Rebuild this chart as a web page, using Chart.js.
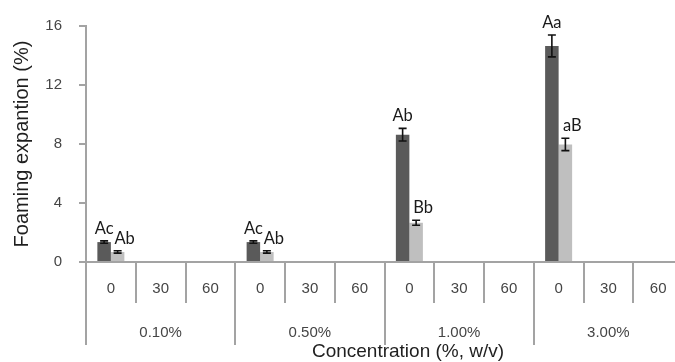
<!DOCTYPE html>
<html>
<head>
<meta charset="utf-8">
<script src="https://cdn.jsdelivr.net/npm/chart.js@4.4.1/dist/chart.umd.min.js"></script>
<style>
  html, body { margin: 0; padding: 0; background: #fff; overflow: hidden; width: 675px; height: 362px; }
  canvas { display: block; }
</style>
</head>
<body>
<canvas id="c" width="700" height="362"></canvas>
<script>
// ---- data ----
const timeLabels = ['0','30','60','0','30','60','0','30','60','0','30','60'];
const concentrationLabels = ['0.10%','0.50%','1.00%','3.00%'];
const darkValues  = [1.35, 0, 0, 1.35, 0, 0, 8.63, 0, 0, 14.65, 0, 0];
const darkErrors  = [0.08, 0, 0, 0.08, 0, 0, 0.43, 0, 0, 0.74, 0, 0];
const darkLetters = ['Ac','','','Ac','','','Ab','','','Aa','',''];
const lightValues  = [0.68, 0, 0, 0.68, 0, 0, 2.66, 0, 0, 7.97, 0, 0];
const lightErrors  = [0.08, 0, 0, 0.08, 0, 0, 0.17, 0, 0, 0.42, 0, 0];
const lightLetters = ['Ab','','','Ab','','','Bb','','','aB','',''];
const yMin = 0, yMax = 16, yStep = 4;
const yTitle = 'Foaming expantion (%)';
const xTitle = 'Concentration (%, w/v)';

const AX = '#a3a3a3';
const TICKFONT = { family: '"Liberation Sans", Arial, sans-serif', size: 15 };
const TITLEFONT = { family: '"Liberation Sans", Arial, sans-serif', size: 20 };

const errorBarsAndLetters = {
  id: 'errorBarsAndLetters',
  afterDatasetsDraw(chart) {
    const ctx = chart.ctx;
    const y = chart.scales.y;
    chart.data.datasets.forEach((ds, i) => {
      const meta = chart.getDatasetMeta(i);
      meta.data.forEach((bar, j) => {
        const v = ds.data[j];
        if (!v) return;
        const e = ds.errors[j];
        const yHi = y.getPixelForValue(v + e);
        const yLo = y.getPixelForValue(v - e);
        ctx.save();
        ctx.strokeStyle = '#111';
        ctx.lineWidth = 1.6;
        ctx.beginPath();
        ctx.moveTo(bar.x, yHi); ctx.lineTo(bar.x, yLo);
        ctx.moveTo(bar.x - 4, yHi); ctx.lineTo(bar.x + 4, yHi);
        ctx.moveTo(bar.x - 4, yLo); ctx.lineTo(bar.x + 4, yLo);
        ctx.stroke();
        const t = ds.letters[j];
        if (t) {
          ctx.fillStyle = '#1a1a1a';
          ctx.font = '16.5px Lato, "Open Sans", sans-serif';
          ctx.textAlign = 'center';
          ctx.textBaseline = 'alphabetic';
          ctx.fillText(t, bar.x + ds.letterShift, yHi - 7);
        }
        ctx.restore();
      });
    });
  },
  afterDraw(chart) {
    const ctx = chart.ctx;
    ctx.save();
    ctx.fillStyle = '#1f1f1f';
    ctx.font = '19px "Liberation Sans", Arial, sans-serif';
    ctx.textAlign = 'center';
    ctx.textBaseline = 'middle';
    ctx.fillText(xTitle, 408, 352);
    ctx.restore();
  }
};

new Chart(document.getElementById('c'), {
  type: 'bar',
  data: {
    labels: timeLabels,
    datasets: [
      { data: darkValues, errors: darkErrors, letters: darkLetters, letterShift: 0,
        backgroundColor: '#5a5a5a', borderWidth: 0, categoryPercentage: 0.543, barPercentage: 1.0 },
      { data: lightValues, errors: lightErrors, letters: lightLetters, letterShift: 7,
        backgroundColor: '#bfbfbf', borderWidth: 0, categoryPercentage: 0.543, barPercentage: 1.0 }
    ]
  },
  options: {
    responsive: false,
    animation: false,
    devicePixelRatio: 1,
    layout: { padding: { top: 21, right: 17, bottom: 0, left: 0 } },
    plugins: { legend: { display: false }, tooltip: { enabled: false } },
    scales: {
      x: {
        type: 'category',
        position: 'bottom',
        weight: 0,
        grid: { display: true, drawOnChartArea: false, drawTicks: true, tickLength: 41, offset: true, color: AX, lineWidth: 2 },
        border: { display: true, color: AX, width: 2 },
        ticks: { font: TICKFONT, color: '#454545', padding: -23, maxRotation: 0, autoSkip: false },
        afterFit(s) { s.height = 41; }
      },
      x2: {
        type: 'category',
        position: 'bottom',
        weight: 1,
        labels: concentrationLabels,
        grid: { display: true, drawOnChartArea: false, drawTicks: true, tickLength: 42, offset: true, color: AX, lineWidth: 2 },
        border: { display: false },
        ticks: { font: TICKFONT, color: '#454545', padding: -21, maxRotation: 0, autoSkip: false },
        afterFit(s) { s.height = 59; }
      },
      y: {
        min: yMin, max: yMax,
        grid: { display: true, drawOnChartArea: false, drawTicks: true, tickLength: 7, color: AX, lineWidth: 2 },
        border: { display: true, color: AX, width: 2 },
        ticks: { stepSize: yStep, font: TICKFONT, color: '#454545', padding: 17 },
        title: { display: true, text: yTitle, font: TITLEFONT, color: '#1f1f1f', padding: { top: 10, bottom: 0 } },
        afterFit(s) { s.width = 86; }
      }
    }
  },
  plugins: [errorBarsAndLetters]
});
</script>
</body>
</html>
